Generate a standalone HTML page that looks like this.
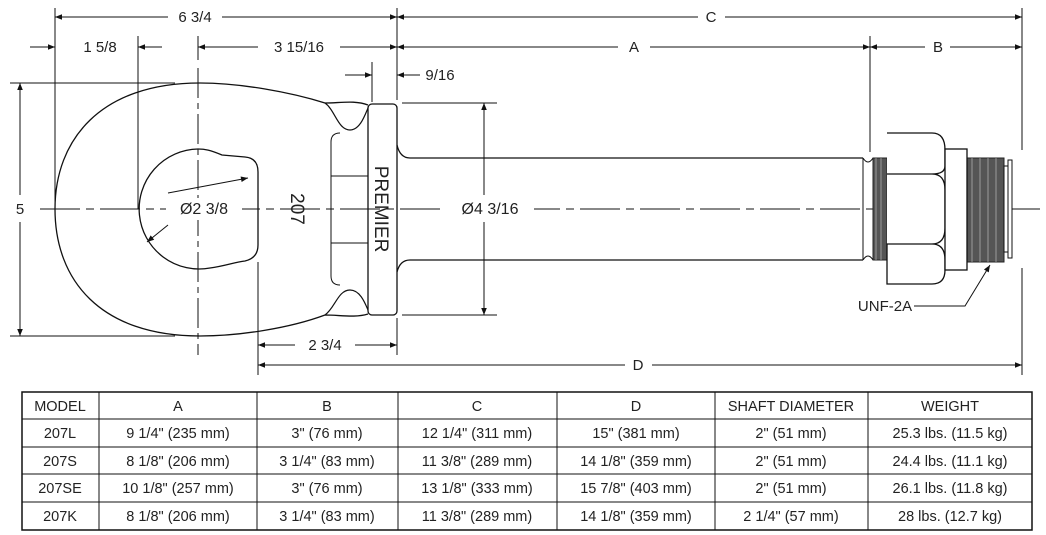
<!DOCTYPE html>
<html><head><meta charset="utf-8"><style>
html,body{margin:0;padding:0;background:#fff;}
svg{display:block;}
text{font-family:"Liberation Sans",sans-serif;fill:#222;}
</style></head><body>
<svg width="1046" height="535" viewBox="0 0 1046 535" xmlns="http://www.w3.org/2000/svg">
<defs>
<marker id="a" viewBox="0 0 10 10" refX="10" refY="5" markerWidth="10" markerHeight="7" orient="auto-start-reverse" markerUnits="userSpaceOnUse"><path d="M0,1 L10,5 L0,9 z" fill="#111"/></marker>
</defs>
<g stroke="#111" stroke-width="1" fill="none">
<line x1="55" y1="8" x2="55" y2="209"/>
<line x1="138" y1="36" x2="138" y2="209"/>
<line x1="198" y1="36" x2="198" y2="60"/>
<line x1="397" y1="8" x2="397" y2="100"/>
<line x1="372" y1="62" x2="372" y2="102"/>
<line x1="870" y1="36" x2="870" y2="152"/>
<line x1="1022" y1="8" x2="1022" y2="150"/>
<line x1="1022" y1="268" x2="1022" y2="375"/>
<line x1="258" y1="262" x2="258" y2="375"/>
<line x1="397" y1="318" x2="397" y2="355"/>
<line x1="10" y1="83" x2="175" y2="83"/>
<line x1="10" y1="336" x2="175" y2="336"/>
<line x1="402" y1="103" x2="497" y2="103"/>
<line x1="402" y1="315" x2="497" y2="315"/>
<line x1="55" y1="17" x2="168" y2="17" marker-start="url(#a)"/>
<line x1="222" y1="17" x2="397" y2="17" marker-end="url(#a)"/>
<line x1="397" y1="17" x2="698" y2="17" marker-start="url(#a)"/>
<line x1="725" y1="17" x2="1022" y2="17" marker-end="url(#a)"/>
<line x1="30" y1="47" x2="55" y2="47" marker-end="url(#a)"/>
<line x1="162" y1="47" x2="138" y2="47" marker-end="url(#a)"/>
<line x1="198" y1="47" x2="258" y2="47" marker-start="url(#a)"/>
<line x1="340" y1="47" x2="397" y2="47" marker-end="url(#a)"/>
<line x1="397" y1="47" x2="618" y2="47" marker-start="url(#a)"/>
<line x1="650" y1="47" x2="870" y2="47" marker-end="url(#a)"/>
<line x1="870" y1="47" x2="925" y2="47" marker-start="url(#a)"/>
<line x1="950" y1="47" x2="1022" y2="47" marker-end="url(#a)"/>
<line x1="345" y1="75" x2="372" y2="75" marker-end="url(#a)"/>
<line x1="420" y1="75" x2="397" y2="75" marker-end="url(#a)"/>
<line x1="20" y1="195" x2="20" y2="83" marker-end="url(#a)"/>
<line x1="20" y1="222" x2="20" y2="336" marker-end="url(#a)"/>
<line x1="484" y1="195" x2="484" y2="103" marker-end="url(#a)"/>
<line x1="484" y1="222" x2="484" y2="315" marker-end="url(#a)"/>
<line x1="258" y1="345" x2="295" y2="345" marker-start="url(#a)"/>
<line x1="355" y1="345" x2="397" y2="345" marker-end="url(#a)"/>
<line x1="258" y1="365" x2="625" y2="365" marker-start="url(#a)"/>
<line x1="652" y1="365" x2="1022" y2="365" marker-end="url(#a)"/>
<line x1="40" y1="209" x2="1040" y2="209" stroke-dasharray="40,6,8,6"/>
<line x1="198" y1="68" x2="198" y2="355" stroke-dasharray="30,5,6,5"/>
<path d="M368,105 C355,100 340,103 325,103 C290,92 240,83 200,83 C100,83 55,140 55,209 C55,280 100,336 200,336 C240,336 290,328 325,315 C340,315 355,318 368,314" stroke-width="1.3"/>
<path d="M325,103 C335,110 338,130 350,130 C360,130 365,115 368,108" stroke-width="1.2"/>
<path d="M325,315 C335,308 338,290 350,290 C360,290 365,303 368,310" stroke-width="1.2"/>
<path d="M222,155 C210,150 205,149 198,149 A60,60 0 1 0 210,268 C225,266 235,262 245,261 Q258,258 258,245 L258,172 Q258,158 245,157 Z" stroke-width="1.3"/>
<rect x="368" y="104" width="29" height="211" rx="4" stroke-width="1.3"/>
<path d="M340,133 Q331,133 331,142 L331,276 Q331,285 340,285" />
<line x1="331" y1="176" x2="368" y2="176"/>
<line x1="331" y1="243" x2="368" y2="243"/>
<path d="M397,145 Q400,158 410,158 L863,158" stroke-width="1.3"/>
<path d="M397,272 Q400,260 410,260 L863,260" stroke-width="1.3"/>
<line x1="863" y1="158" x2="863" y2="260"/>
<path d="M863,158 Q868,166 873,158 M863,260 Q868,252 873,260"/>
<rect x="873" y="158" width="14" height="102" fill="#555" stroke="#222"/>
<rect x="967" y="158" width="37" height="104" fill="#555" stroke="#222"/>
<g stroke="#ccc" stroke-width="0.6"><line x1="876" y1="158" x2="876" y2="260"/><line x1="881" y1="158" x2="881" y2="260"/><line x1="972" y1="158" x2="972" y2="262"/><line x1="980" y1="158" x2="980" y2="262"/><line x1="988" y1="158" x2="988" y2="262"/><line x1="996" y1="158" x2="996" y2="262"/></g>
<path d="M887,133 L932,133 Q945,133 945,150 L945,166 Q945,174 932,174 L887,174 M887,174 L932,174 Q945,174 945,190 L945,228 Q945,244 932,244 L887,244 M887,244 L932,244 Q945,244 945,260 L945,270 Q945,284 932,284 L887,284 Z" fill="#fff" stroke-width="1.3"/>
<rect x="945" y="149" width="22" height="121" fill="#fff" stroke-width="1.3"/>
<rect x="1004" y="166" width="4" height="86" fill="#fff"/>
<rect x="1008" y="160" width="4" height="98" fill="#fff"/>
<polyline points="914,306 965,306 990,265" marker-end="url(#a)"/>
<rect x="22" y="392" width="1010" height="138" stroke-width="1.5"/>
<line x1="22" y1="419" x2="1032" y2="419"/><line x1="22" y1="447" x2="1032" y2="447"/><line x1="22" y1="474" x2="1032" y2="474"/><line x1="22" y1="502" x2="1032" y2="502"/>
<line x1="99" y1="392" x2="99" y2="530"/><line x1="257" y1="392" x2="257" y2="530"/><line x1="398" y1="392" x2="398" y2="530"/><line x1="557" y1="392" x2="557" y2="530"/><line x1="715" y1="392" x2="715" y2="530"/><line x1="868" y1="392" x2="868" y2="530"/>
</g>
<rect x="166" y="198" width="76" height="22" fill="#fff"/>
<rect x="446" y="198" width="88" height="22" fill="#fff"/>
<g stroke="#111" stroke-width="1" fill="none">
<line x1="168" y1="193" x2="248" y2="178" marker-end="url(#a)"/>
<line x1="168" y1="225" x2="147" y2="242" marker-end="url(#a)"/>
</g>
<g font-size="15" text-anchor="middle">
<text x="195" y="22">6 3/4</text>
<text x="711" y="22">C</text>
<text x="100" y="52">1 5/8</text>
<text x="299" y="52">3 15/16</text>
<text x="634" y="52">A</text>
<text x="938" y="52">B</text>
<text x="440" y="80">9/16</text>
<text x="20" y="214">5</text>
<text x="204" y="214" font-size="16">Ø2 3/8</text>
<text x="490" y="214" font-size="16">Ø4 3/16</text>
<text x="325" y="350">2 3/4</text>
<text x="638" y="370">D</text>
<text x="885" y="311">UNF-2A</text>
<text transform="translate(297,209) rotate(90)" y="6" font-size="19">207</text>
<text transform="translate(382,209) rotate(90)" y="7" font-size="19">PREMIER</text>
</g>
<g font-size="14.5" text-anchor="middle">
<text x="60" y="411">MODEL</text><text x="178" y="411">A</text><text x="327" y="411">B</text><text x="477" y="411">C</text><text x="636" y="411">D</text><text x="791" y="411">SHAFT DIAMETER</text><text x="950" y="411">WEIGHT</text>
<text x="60" y="438">207L</text><text x="178" y="438">9 1/4" (235 mm)</text><text x="327" y="438">3" (76 mm)</text><text x="477" y="438">12 1/4" (311 mm)</text><text x="636" y="438">15" (381 mm)</text><text x="791" y="438">2" (51 mm)</text><text x="950" y="438">25.3 lbs. (11.5 kg)</text>
<text x="60" y="466">207S</text><text x="178" y="466">8 1/8" (206 mm)</text><text x="327" y="466">3 1/4" (83 mm)</text><text x="477" y="466">11 3/8" (289 mm)</text><text x="636" y="466">14 1/8" (359 mm)</text><text x="791" y="466">2" (51 mm)</text><text x="950" y="466">24.4 lbs. (11.1 kg)</text>
<text x="60" y="493">207SE</text><text x="178" y="493">10 1/8" (257 mm)</text><text x="327" y="493">3" (76 mm)</text><text x="477" y="493">13 1/8" (333 mm)</text><text x="636" y="493">15 7/8" (403 mm)</text><text x="791" y="493">2" (51 mm)</text><text x="950" y="493">26.1 lbs. (11.8 kg)</text>
<text x="60" y="521">207K</text><text x="178" y="521">8 1/8" (206 mm)</text><text x="327" y="521">3 1/4" (83 mm)</text><text x="477" y="521">11 3/8" (289 mm)</text><text x="636" y="521">14 1/8" (359 mm)</text><text x="791" y="521">2 1/4" (57 mm)</text><text x="950" y="521">28 lbs. (12.7 kg)</text>
</g>
</svg>
</body></html>
